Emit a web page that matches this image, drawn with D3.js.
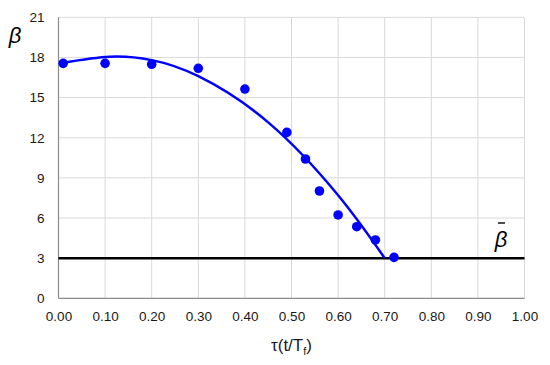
<!DOCTYPE html>
<html>
<head>
    <meta charset="utf-8">
    <title>beta vs tau</title>
    <script src="https://cdnjs.cloudflare.com/ajax/libs/d3/7.8.5/d3.min.js"></script>
</head>
<body style="margin:0">
<style>
    body { background: #fff; }
    text { font-family: "Liberation Sans", Arial, sans-serif; }
</style>
<script>
    // measured points
    const tau = [0.01, 0.10, 0.20, 0.30, 0.40, 0.49, 0.53, 0.56, 0.60, 0.64, 0.68, 0.72];
    const beta = [17.56, 17.56, 17.49, 17.19, 15.64, 12.4, 10.41, 8.02, 6.23, 5.35, 4.36, 3.06];
    // fitted curve
    const fitTau = [0.01, 0.11, 0.20, 0.30, 0.45, 0.60, 0.70];
    const fitBeta = [17.6, 18.05, 17.8, 16.6, 13.15, 7.7, 3.0];
    const betaBar = 3;
    const xTicks = [0, 0.1, 0.2, 0.3, 0.4, 0.5, 0.6, 0.7, 0.8, 0.9, 1.0];
    const yTicks = [0, 3, 6, 9, 12, 15, 18, 21];

    const W = 550, H = 365;
    const m = {left: 58.5, right: 25.5, top: 17.3, bottom: 66.7};
    const svg = d3.select("body").append("svg").attr("width", W).attr("height", H);

    const x = d3.scaleLinear().domain([0, 1]).range([m.left, W - m.right]);
    const y = d3.scaleLinear().domain([0, 21]).range([H - m.bottom, m.top]);

    // grid
    svg.append("g").selectAll("line").data(xTicks.slice(1)).enter().append("line")
        .attr("x1", d => x(d)).attr("x2", d => x(d))
        .attr("y1", y(0)).attr("y2", y(21))
        .attr("stroke", "#d9d9d9").attr("stroke-width", 1);
    svg.append("g").selectAll("line").data(yTicks.slice(1)).enter().append("line")
        .attr("x1", x(0)).attr("x2", x(1))
        .attr("y1", d => y(d)).attr("y2", d => y(d))
        .attr("stroke", "#d9d9d9").attr("stroke-width", 1);

    // axes
    const xAxis = d3.axisBottom(x).tickValues(xTicks).tickFormat(d3.format(".2f")).tickSize(0).tickPadding(13);
    const yAxis = d3.axisLeft(y).tickValues(yTicks).tickSize(0).tickPadding(14);
    const gx = svg.append("g").attr("transform", `translate(0,${y(0)})`).call(xAxis);
    const gy = svg.append("g").attr("transform", `translate(${x(0)},0)`).call(yAxis);
    [gx, gy].forEach(g => {
        g.select(".domain").attr("stroke", "#8c8c8c").attr("stroke-width", 1.2);
        g.selectAll("text").attr("font-size", 13.5).attr("fill", "#1a1a1a")
            .attr("font-family", "'Liberation Sans', Arial, sans-serif");
    });
    gx.select(".domain").attr("d", `M${x(0)},0H${x(1)}`);
    gy.select(".domain").attr("d", `M0,${y(0)}V${y(21)}`);

    // beta bar line
    svg.append("line")
        .attr("x1", x(0)).attr("x2", x(1))
        .attr("y1", y(betaBar)).attr("y2", y(betaBar))
        .attr("stroke", "#000").attr("stroke-width", 2.5);

    // fit curve
    const fit = fitTau.map((t, i) => [t, fitBeta[i]]);
    svg.append("path").datum(fit)
        .attr("d", d3.line().x(d => x(d[0])).y(d => y(d[1])).curve(d3.curveNatural))
        .attr("fill", "none").attr("stroke", "#0000ff").attr("stroke-width", 2.5);

    // points
    svg.append("g").selectAll("circle").data(tau).enter().append("circle")
        .attr("cx", d => x(d)).attr("cy", (d, i) => y(beta[i])).attr("r", 4.8)
        .attr("fill", "#0000ff");

    // labels
    svg.append("text").attr("x", 15).attr("y", 43)
        .attr("text-anchor", "middle").attr("font-size", 22).attr("font-style", "italic")
        .attr("font-family", "'DejaVu Serif', serif").text("β");
    svg.append("text").attr("x", 501).attr("y", 247)
        .attr("text-anchor", "middle").attr("font-size", 22).attr("font-style", "italic")
        .attr("font-family", "'DejaVu Serif', serif").text("β");
    svg.append("line").attr("x1", 498).attr("x2", 505).attr("y1", 223).attr("y2", 223)
        .attr("stroke", "#000").attr("stroke-width", 1.4);

    const xl = svg.append("text").attr("x", x(0.5)).attr("y", 351)
        .attr("text-anchor", "middle").attr("font-size", 17).attr("fill", "#1a1a1a");
    xl.append("tspan").text("τ(t/T");
    xl.append("tspan").attr("font-size", 11).attr("dy", 4).text("f");
    xl.append("tspan").attr("dy", -4).text(")");
</script>
</body>
</html>
